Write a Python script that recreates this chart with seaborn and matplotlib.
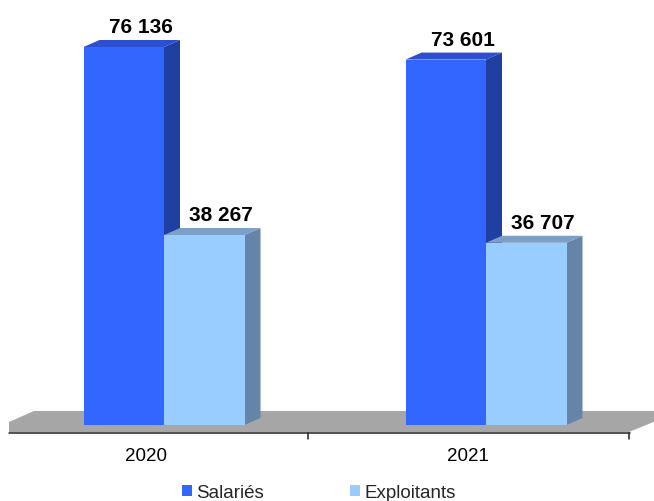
import numpy as np
import pandas as pd
import matplotlib
matplotlib.use("Agg")
import matplotlib.pyplot as plt
from matplotlib.patches import Polygon, Rectangle
from matplotlib.lines import Line2D
from matplotlib.transforms import ScaledTranslation
import seaborn as sns

# Effectifs par année et par statut
years = ["2020", "2021"]
series = ["Salariés", "Exploitants"]
salaries = [76136, 73601]
exploitants = [38267, 36707]

front_colors = {"Salariés": "#3366FF", "Exploitants": "#99CCFF"}
top_colors = {"Salariés": "#2B4FD0", "Exploitants": "#7C9FC6"}
side_colors = {"Salariés": "#1F3FA2", "Exploitants": "#6684A8"}

df = pd.DataFrame({
    "Année": years * 2,
    "Statut": [series[0]] * len(years) + [series[1]] * len(years),
    "Effectif": salaries + exploitants,
})

sns.set_theme(style="white")
plt.rcParams["font.family"] = ["Liberation Sans", "DejaVu Sans"]

W, H = 654, 502
fig = plt.figure(figsize=(W / 100, H / 100), dpi=100)
fig.patch.set_facecolor("white")


def fx(px):
    return px / W


def fy(py):
    return 1 - py / H


# Plot area: y = 0 at 426 px from top, category slots 322 px wide
ymax = 80000
px_per_unit = 378 / 76136
ax_bottom_px = 426
ax_top_px = ax_bottom_px - ymax * px_per_unit
ax = fig.add_axes([fx(3), fy(ax_bottom_px), fx(644), (ax_bottom_px - ax_top_px) / H])
ax.patch.set_visible(False)

sns.barplot(data=df, x="Année", y="Effectif", hue="Statut", order=years,
            hue_order=series, palette=front_colors, saturation=1,
            width=0.5, gap=0, edgecolor="none", linewidth=0,
            errorbar=None, legend=False, ax=ax)

ax.set_xlim(-0.5, 1.5)
ax.set_ylim(0, ymax)
ax.set_xlabel("")
ax.set_ylabel("")
ax.set_yticks([])
sns.despine(ax=ax, left=True, bottom=True)

# Floor slab under the bars (figure pixel geometry)
floor_px = [(9, 433), (9, 423), (34, 412), (656, 412), (656, 422), (629, 433)]
fig.add_artist(Polygon([(fx(x), fy(y)) for x, y in floor_px], closed=True,
                       facecolor="#A6A6A6", edgecolor="none",
                       transform=fig.transFigure, zorder=-2))
fig.add_artist(Line2D([fx(9), fx(629.5)], [fy(433.5), fy(433.5)],
                      color="#222222", lw=1.1, transform=fig.transFigure, zorder=-1))
for tx in (307.5, 629):
    fig.add_artist(Line2D([fx(tx), fx(tx)], [fy(433.5), fy(440)],
                          color="#222222", lw=1.1, transform=fig.transFigure, zorder=-1))

# Bars come out grouped by hue, in hue_order
rects = [p for p in ax.patches if isinstance(p, Rectangle)]
bar_series = []
for k, name in enumerate(series):
    bar_series += [(rects[k * len(years) + j], name) for j in range(len(years))]
bar_series.sort(key=lambda t: t[0].get_x())

# Depth faces (top and right side) for each bar, plus value label
inv = ax.transData.inverted()
dx, dy = 16, 7
for i, (bar, name) in enumerate(bar_series):
    x0, y0 = bar.get_x(), bar.get_y()
    x1, y1 = x0 + bar.get_width(), y0 + bar.get_height()
    (dl, db) = ax.transData.transform((x0, y0))
    (dr, dt) = ax.transData.transform((x1, y1))
    top = [(dl, dt), (dr, dt), (dr + dx, dt + dy), (dl + dx, dt + dy)]
    side = [(dr, db), (dr, dt), (dr + dx, dt + dy), (dr + dx, db + dy)]
    for pts, col in ((side, side_colors[name]), (top, top_colors[name])):
        ax.add_patch(Polygon(inv.transform(pts), closed=True, facecolor=col,
                             edgecolor="none", zorder=2 + 2 * i, clip_on=False))
    bar.set_zorder(3 + 2 * i)
    label = f"{int(round(bar.get_height())):,}".replace(",", " ")
    ax.annotate(label, ((x0 + x1) / 2, y1), xytext=(17, 15),
                textcoords="offset pixels", ha="center", va="baseline",
                fontsize=15, fontweight="bold", color="black",
                zorder=20, annotation_clip=False)

# Category labels, centred under the front edge of the floor
ax.set_xticks(range(len(years)))
ax.set_xticklabels(years, fontsize=13.5, color="black")
ax.tick_params(axis="x", length=0, pad=16)
shift = ScaledTranslation(-18 / 100, 0, fig.dpi_scale_trans)
for lab in ax.get_xticklabels():
    lab.set_transform(lab.get_transform() + shift)

# Legend
handles = [Rectangle((0, 0), 1, 1, facecolor=front_colors[s], edgecolor="none")
           for s in series]
fig.legend(handles, series, loc="center left",
           bbox_to_anchor=(fx(182), fy(494)), ncol=2, frameon=False,
           fontsize=13.5, handlelength=0.53, handleheight=0.53,
           handletextpad=0.22, columnspacing=4.6, borderpad=0,
           borderaxespad=0)

fig.savefig("out.png", dpi=100)
